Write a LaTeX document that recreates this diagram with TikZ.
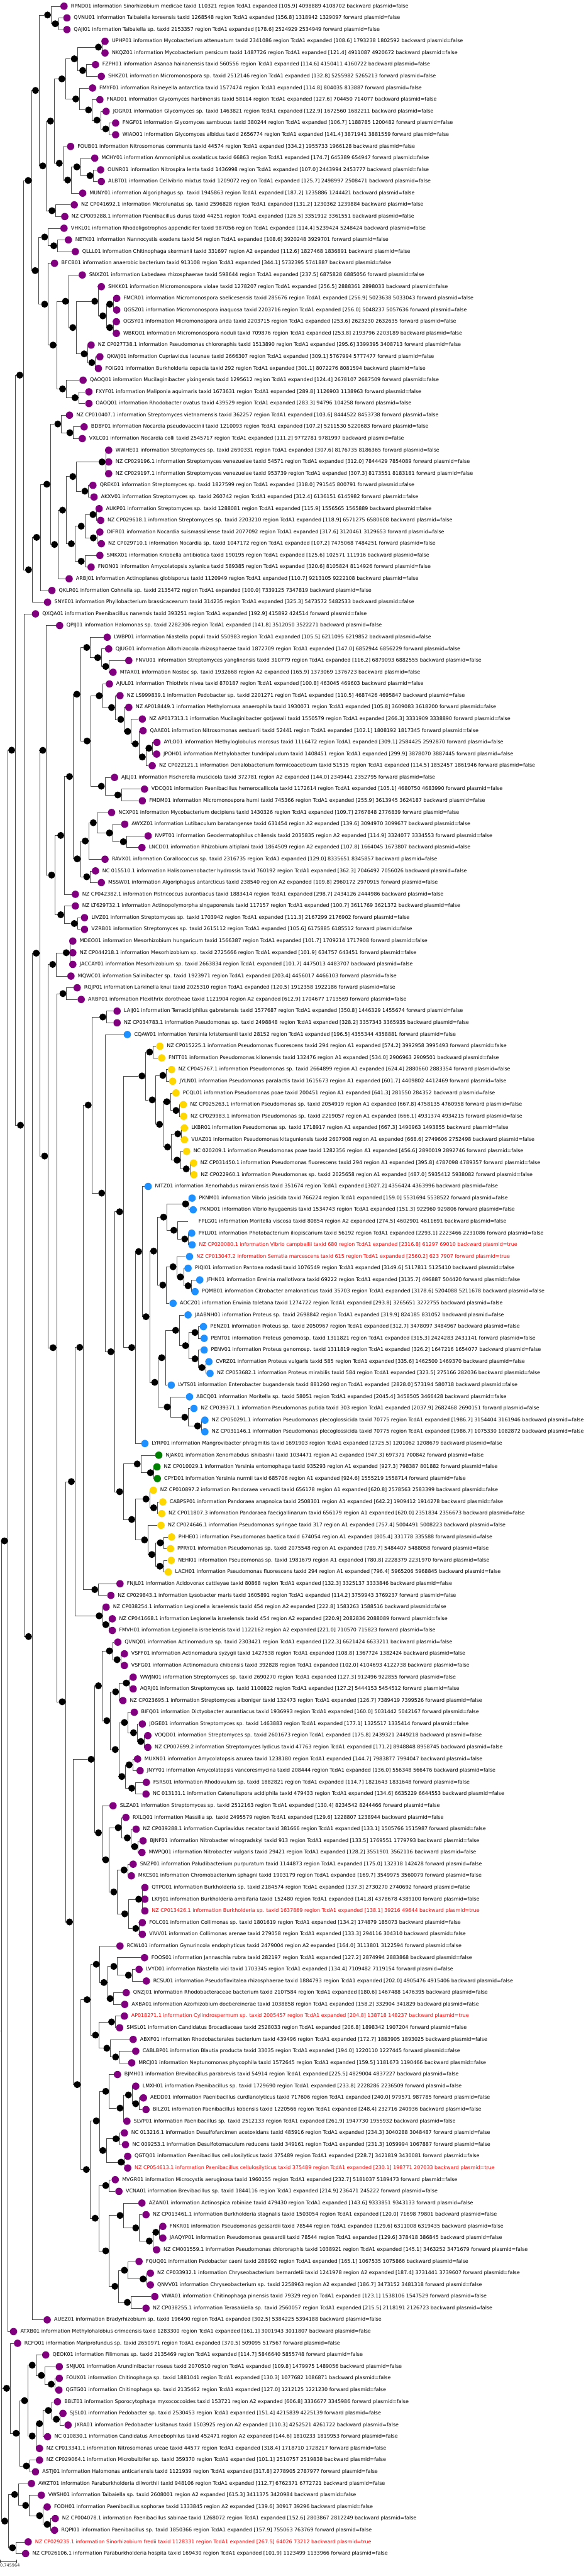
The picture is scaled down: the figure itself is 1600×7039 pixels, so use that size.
\documentclass[tikz,border=0pt]{standalone}
\usepackage{fontspec}
\setmainfont{DejaVu Sans}
\usetikzlibrary{calc,backgrounds}
\definecolor{ink}{HTML}{000000}
\definecolor{lila}{HTML}{800080}
\definecolor{blau}{HTML}{1E90FF}
\definecolor{gold}{HTML}{FFD700}
\definecolor{gruen}{HTML}{008000}
\definecolor{rot}{HTML}{FF0000}
\definecolor{astgrau}{HTML}{4A4A4A}
\newcounter{zeile}
\newcommand\blattschrift{\fontsize{13.7}{16}\selectfont}
% Blatt: Punkt in der nächsten Zeile, Beschriftung rechts daneben
\newcommand\blatt[5][ink]{\node[bpunkt,fill=#4] (#2) at (#3,{17+31.93*\the\value{zeile}}) {};%
  \node[btext,text=#1] (#2-t) at ([xshift=8.5]#2.east) {#5};\stepcounter{zeile}}
% Äste werden gesammelt und am Schluss hinter die Punkte gezeichnet
\makeatletter
\newcommand\kantenliste{}
\newcommand\kante[2]{\g@addto@macro\kantenliste{\draw[ast] (#1.east) |- (#2);}}
\makeatother
% innerer Knoten: Höhe = Mitte zwischen erstem und letztem Kind
\newcommand\knoten[5][kpunkt]{\path let \p1=(#4), \p2=(#5) in
  node[#1] (#2) at (#3pt,{0.5*\y1+0.5*\y2}) {};\kante{#2}{#4}\kante{#2}{#5}}

\begin{document}
\begin{tikzpicture}[x=1pt,y=-1pt]
\useasboundingbox (0,0) rectangle (1600,7039);
\tikzset{bpunkt/.style={circle,inner sep=0,minimum size=20},
  kpunkt/.style={circle,fill=ink,inner sep=0,minimum size=19},
  wurzel/.style={circle,fill=blau,inner sep=0,minimum size=3},
  btext/.style={anchor=west,inner sep=0,font=\blattschrift},
  ast/.style={astgrau,line width=1.1}}

% ---- obere Hälfte ------------------------------------------------------------
\blatt{RPND01}{175}{lila}{RPND01 information Sinorhizobium medicae taxid 110321 region TcdA1 expanded [105.9] 4098889 4108702 backward plasmid=false}
\blatt{QVNU01}{183}{lila}{QVNU01 information Taibaiella koreensis taxid 1268548 region TcdA1 expanded [156.8] 1318942 1329097 forward plasmid=false}
\blatt{QAJI01}{183}{lila}{QAJI01 information Taibaiella sp. taxid 2153357 region TcdA1 expanded [178.6] 2524929 2534949 forward plasmid=false}
\knoten{k151}{151}{QVNU01}{QAJI01}
\knoten{k130}{130}{RPND01}{k151}
\blatt{UPHP01}{287}{lila}{UPHP01 information Mycobacterium attenuatum taxid 2341086 region TcdA1 expanded [108.6] 1793238 1802592 backward plasmid=false}
\blatt{NKQZ01}{287}{lila}{NKQZ01 information Mycobacterium persicum taxid 1487726 region TcdA1 expanded [121.4] 4911087 4920672 backward plasmid=false}
\knoten{k269}{269}{UPHP01}{NKQZ01}
\blatt{FZPH01}{261}{lila}{FZPH01 information Asanoa hainanensis taxid 560556 region TcdA1 expanded [114.6] 4150411 4160722 backward plasmid=false}
\blatt{SHKZ01}{277}{lila}{SHKZ01 information Micromonospora sp. taxid 2512146 region TcdA1 expanded [132.8] 5255982 5265213 forward plasmid=false}
\knoten{k226}{226}{FZPH01}{SHKZ01}
\knoten{k203}{203}{k269}{k226}
\blatt{FMYF01}{253}{lila}{FMYF01 information Raineyella antarctica taxid 1577474 region TcdA1 expanded [114.8] 804035 813887 forward plasmid=false}
\blatt{FNAD01}{273}{lila}{FNAD01 information Glycomyces harbinensis taxid 58114 region TcdA1 expanded [127.6] 704450 714077 backward plasmid=false}
\blatt{JOGR01}{290}{lila}{JOGR01 information Glycomyces sp. taxid 1463821 region TcdA1 expanded [122.9] 1672560 1682211 backward plasmid=false}
\blatt{FNGF01}{316}{lila}{FNGF01 information Glycomyces sambucus taxid 380244 region TcdA1 expanded [106.7] 1188785 1200482 forward plasmid=false}
\blatt{WIAO01}{316}{lila}{WIAO01 information Glycomyces albidus taxid 2656774 region TcdA1 expanded [141.4] 3871941 3881559 forward plasmid=false}
\knoten{k289}{289}{FNGF01}{WIAO01}
\knoten{k265}{265}{JOGR01}{k289}
\knoten{k242}{242}{FNAD01}{k265}
\knoten{k207}{207}{FMYF01}{k242}
\knoten{k169}{169}{k203}{k207}
\blatt{FOUB01}{193}{lila}{FOUB01 information Nitrosomonas communis taxid 44574 region TcdA1 expanded [334.2] 1955733 1966128 backward plasmid=false}
\blatt{MCHY01}{259}{lila}{MCHY01 information Ammoniphilus oxalaticus taxid 66863 region TcdA1 expanded [174.7] 645389 654947 forward plasmid=false}
\blatt{OUNR01}{275}{lila}{OUNR01 information Nitrospira lenta taxid 1436998 region TcdA1 expanded [107.0] 2443994 2453777 backward plasmid=false}
\blatt{ALBT01}{277}{lila}{ALBT01 information Cellvibrio mixtus taxid 1209072 region TcdA1 expanded [125.7] 2498997 2508471 backward plasmid=false}
\knoten{k246}{246}{OUNR01}{ALBT01}
\knoten{k210}{210}{MCHY01}{k246}
\blatt{MUNY01}{226}{lila}{MUNY01 information Algoriphagus sp. taxid 1945863 region TcdA1 expanded [187.2] 1235886 1244421 backward plasmid=false}
\knoten{k185}{185}{k210}{MUNY01}
\knoten{k162}{162}{FOUB01}{k185}
\knoten{k138}{138}{k169}{k162}
\blatt{CP041692}{203}{lila}{NZ CP041692.1 information Microlunatus sp. taxid 2596828 region TcdA1 expanded [131.2] 1230362 1239884 backward plasmid=false}
\blatt{CP009288}{177}{lila}{NZ CP009288.1 information Paenibacillus durus taxid 44251 region TcdA1 expanded [126.5] 3351912 3361551 backward plasmid=false}
\knoten{k142}{142}{CP041692}{CP009288}
\knoten{k117a}{117}{k138}{k142}
\knoten{k97}{97}{k130}{k117a}
\blatt{VHKL01}{175}{lila}{VHKL01 information Rhodoligotrophos appendicifer taxid 987056 region TcdA1 expanded [114.4] 5239424 5248424 backward plasmid=false}
\blatt{NETK01}{187}{lila}{NETK01 information Nannocystis exedens taxid 54 region TcdA1 expanded [108.6] 3920248 3929701 forward plasmid=false}
\blatt{QLLL01}{206}{lila}{QLLL01 information Chitinophaga skermanii taxid 331697 region A2 expanded [112.6] 1827468 1836891 backward plasmid=false}
\knoten{k147}{147}{NETK01}{QLLL01}
\knoten{k122a}{122}{VHKL01}{k147}
\blatt{BFCB01}{149}{lila}{BFCB01 information anaerobic bacterium taxid 913108 region TcdA1 expanded [344.1] 5732395 5741887 backward plasmid=false}
\blatt{SNXZ01}{225}{lila}{SNXZ01 information Labedaea rhizosphaerae taxid 598644 region TcdA1 expanded [237.5] 6875828 6885056 forward plasmid=false}
\blatt{SHKK01}{277}{lila}{SHKK01 information Micromonospora violae taxid 1278207 region TcdA1 expanded [256.5] 2888361 2898033 backward plasmid=false}
\blatt{FMCR01}{319}{lila}{FMCR01 information Micromonospora saelicesensis taxid 285676 region TcdA1 expanded [256.9] 5023638 5033043 forward plasmid=false}
\blatt{QGSZ01}{319}{lila}{QGSZ01 information Micromonospora inaquosa taxid 2203716 region TcdA1 expanded [256.0] 5048237 5057636 forward plasmid=false}
\knoten{k300a}{300}{FMCR01}{QGSZ01}
\blatt{QGSY01}{318}{lila}{QGSY01 information Micromonospora arida taxid 2203715 region TcdA1 expanded [253.6] 2623230 2632635 forward plasmid=false}
\blatt{WBKQ01}{318}{lila}{WBKQ01 information Micromonospora noduli taxid 709876 region TcdA1 expanded [253.8] 2193796 2203189 backward plasmid=false}
\knoten{k300b}{300}{QGSY01}{WBKQ01}
\knoten{k281}{281}{k300a}{k300b}
\knoten{k259}{259}{SHKK01}{k281}
\blatt{CP027738}{249}{lila}{NZ CP027738.1 information Pseudomonas chlororaphis taxid 1513890 region TcdA1 expanded [295.6] 3399395 3408713 forward plasmid=false}
\blatt{QKWJ01}{273}{lila}{QKWJ01 information Cupriavidus lacunae taxid 2666307 region TcdA1 expanded [309.1] 5767994 5777477 forward plasmid=false}
\blatt{FOIG01}{269}{lila}{FOIG01 information Burkholderia cepacia taxid 292 region TcdA1 expanded [301.1] 8072276 8081594 backward plasmid=false}
\knoten{k251}{251}{QKWJ01}{FOIG01}
\knoten{k230}{230}{CP027738}{k251}
\knoten{k199}{199}{k259}{k230}
\knoten{k179}{179}{SNXZ01}{k199}
\blatt{QAOQ01}{227}{lila}{QAOQ01 information Mucilaginibacter yixingensis taxid 1295612 region TcdA1 expanded [124.4] 2678107 2687509 forward plasmid=false}
\blatt{FXYF01}{243}{lila}{FXYF01 information Maliponia aquimaris taxid 1673631 region TcdA1 expanded [289.8] 1126903 1138963 forward plasmid=false}
\blatt{OAOQ01}{243}{lila}{OAOQ01 information Rhodobacter ovatus taxid 439529 region TcdA1 expanded [283.3] 94796 104258 forward plasmid=false}
\knoten{k205}{205}{FXYF01}{OAOQ01}
\knoten{k171}{171}{QAOQ01}{k205}
\knoten{k145}{145}{k179}{k171}
\knoten{k122b}{122}{BFCB01}{k145}
\knoten{k96}{96}{k122a}{k122b}
\knoten{k77}{77}{k97}{k96}
\blatt{CP010407}{190}{lila}{NZ CP010407.1 information Streptomyces vietnamensis taxid 362257 region TcdA1 expanded [103.6] 8444522 8453738 forward plasmid=false}
\blatt{BDBY01}{230}{lila}{BDBY01 information Nocardia pseudovaccinii taxid 1210093 region TcdA1 expanded [107.2] 5211530 5220683 forward plasmid=false}
\blatt{VXLC01}{225}{lila}{VXLC01 information Nocardia colli taxid 2545717 region TcdA1 expanded [111.2] 9772781 9781997 backward plasmid=false}
\knoten{k191}{191}{BDBY01}{VXLC01}
\knoten{k158}{158}{CP010407}{k191}
\blatt{WWHE01}{297}{lila}{WWHE01 information Streptomyces sp. taxid 2690331 region TcdA1 expanded [307.6] 8176735 8186365 forward plasmid=false}
\blatt{CP029196}{297}{lila}{NZ CP029196.1 information Streptomyces venezuelae taxid 54571 region TcdA1 expanded [312.0] 7844429 7854089 forward plasmid=false}
\blatt{CP029197}{297}{lila}{NZ CP029197.1 information Streptomyces venezuelae taxid 953739 region TcdA1 expanded [307.3] 8173551 8183181 forward plasmid=false}
\knoten{k279}{279}{WWHE01}{CP029197}\kante{k279}{CP029196}
\blatt{QREK01}{254}{lila}{QREK01 information Streptomyces sp. taxid 1827599 region TcdA1 expanded [318.0] 791545 800791 forward plasmid=false}
\blatt{AKXV01}{257}{lila}{AKXV01 information Streptomyces sp. taxid 260742 region TcdA1 expanded [312.4] 6136151 6145982 forward plasmid=false}
\knoten{k232}{232}{QREK01}{AKXV01}
\knoten{k199b}{199}{k279}{k232}
\blatt{AUKP01}{271}{lila}{AUKP01 information Streptomyces sp. taxid 1288081 region TcdA1 expanded [115.9] 1556565 1565889 backward plasmid=false}
\blatt{CP029618}{275}{lila}{NZ CP029618.1 information Streptomyces sp. taxid 2203210 region TcdA1 expanded [118.9] 6571275 6580608 backward plasmid=false}
\knoten{k254}{254}{AUKP01}{CP029618}
\blatt{OIFR01}{273}{lila}{OIFR01 information Nocardia suismassiliense taxid 2077092 region TcdA1 expanded [317.6] 3120461 3129653 forward plasmid=false}
\blatt{CP029710}{277}{lila}{NZ CP029710.1 information Nocardia sp. taxid 1047172 region TcdA1 expanded [107.2] 7475068 7484251 forward plasmid=false}
\knoten{k255}{255}{OIFR01}{CP029710}
\knoten{k222a}{222}{k254}{k255}
\blatt{SMKX01}{273}{lila}{SMKX01 information Kribbella antibiotica taxid 190195 region TcdA1 expanded [125.6] 102571 111916 backward plasmid=false}
\blatt{FNON01}{249}{lila}{FNON01 information Amycolatopsis xylanica taxid 589385 region TcdA1 expanded [320.6] 8105824 8114926 forward plasmid=false}
\knoten{k222b}{222}{SMKX01}{FNON01}
\knoten{k195}{195}{k222a}{k222b}
\knoten{k171b}{171}{k199b}{k195}
\blatt{ARBJ01}{189}{lila}{ARBJ01 information Actinoplanes globisporus taxid 1120949 region TcdA1 expanded [110.7] 9213105 9222108 backward plasmid=false}
\knoten{k149}{149}{k171b}{ARBJ01}
\knoten{k128}{128}{k158}{k149}
\blatt{QKLR01}{142}{lila}{QKLR01 information Cohnella sp. taxid 2135472 region TcdA1 expanded [100.0] 7339125 7347819 backward plasmid=false}
\knoten{k100}{100}{k128}{QKLR01}
\blatt{SNYE01}{130}{lila}{SNYE01 information Phyllobacterium brassicacearum taxid 314235 region TcdA1 expanded [325.3] 5473572 5482533 backward plasmid=false}
\knoten{k78}{78}{k100}{SNYE01}
\knoten{k54}{54}{k77}{k78}

% ---- mittlerer Teil ----------------------------------------------------------
\blatt{QXQA01}{97}{lila}{QXQA01 information Paenibacillus nanensis taxid 393251 region TcdA1 expanded [192.9] 415892 424514 forward plasmid=false}
\blatt{QPIJ01}{163}{lila}{QPIJ01 information Halomonas sp. taxid 2282306 region TcdA1 expanded [141.8] 3512050 3522271 backward plasmid=false}
\blatt{LWBP01}{293}{lila}{LWBP01 information Niastella populi taxid 550983 region TcdA1 expanded [105.5] 6211095 6219852 backward plasmid=false}
\blatt{QJUG01}{297}{lila}{QJUG01 information Allorhizocola rhizosphaerae taxid 1872709 region TcdA1 expanded [147.0] 6852944 6856229 forward plasmid=false}
\blatt{FNVU01}{352}{lila}{FNVU01 information Streptomyces yanglinensis taxid 310779 region TcdA1 expanded [116.2] 6879093 6882555 backward plasmid=false}
\blatt{MTAX01}{309}{lila}{MTAX01 information Nostoc sp. taxid 1932668 region A2 expanded [165.9] 1373069 1376723 backward plasmid=false}
\knoten{k289b}{289}{FNVU01}{MTAX01}
\knoten{k267}{267}{QJUG01}{k289b}
\knoten{k237a}{237}{LWBP01}{k267}
\blatt{AJUL01}{299}{lila}{AJUL01 information Thiothrix nivea taxid 870187 region TcdA1 expanded [100.8] 463045 469603 backward plasmid=false}
\blatt{LS999839}{328}{lila}{NZ LS999839.1 information Pedobacter sp. taxid 2201271 region TcdA1 expanded [110.5] 4687426 4695847 backward plasmid=false}
\blatt{AP018449}{352}{lila}{NZ AP018449.1 information Methylomusa anaerophila taxid 1930071 region TcdA1 expanded [105.8] 3609083 3618200 forward plasmid=false}
\blatt{AP017313}{389}{lila}{NZ AP017313.1 information Mucilaginibacter gotjawali taxid 1550579 region TcdA1 expanded [266.3] 3331909 3338890 forward plasmid=false}
\blatt{QAAE01}{391}{lila}{QAAE01 information Nitrosomonas aestuarii taxid 52441 region TcdA1 expanded [102.1] 1808192 1817345 forward plasmid=false}
\blatt{AYLO01}{429}{lila}{AYLO01 information Methyloglobulus morosus taxid 1116472 region TcdA1 expanded [309.1] 2584425 2592870 forward plasmid=false}
\blatt{JPOH01}{428}{lila}{JPOH01 information Methylobacter tundripaludum taxid 1408451 region TcdA1 expanded [299.9] 3878070 3887445 forward plasmid=false}
\knoten{k407}{407}{AYLO01}{JPOH01}
\blatt{CP022121}{416}{lila}{NZ CP022121.1 information Dehalobacterium formicoaceticum taxid 51515 region TcdA1 expanded [114.5] 1852457 1861946 forward plasmid=false}
\knoten{k389}{389}{k407}{CP022121}
\knoten{k370}{370}{QAAE01}{k389}
\knoten{k349}{349}{AP017313}{k370}
\knoten{k330}{330}{AP018449}{k349}
\knoten{k305}{305}{LS999839}{k330}
\knoten{k271}{271}{AJUL01}{k305}
\blatt{AJLJ01}{313}{lila}{AJLJ01 information Fischerella muscicola taxid 372781 region A2 expanded [144.0] 2349441 2352795 forward plasmid=false}
\blatt{VDCQ01}{395}{lila}{VDCQ01 information Paenibacillus hemerocallicola taxid 1172614 region TcdA1 expanded [105.1] 4680750 4683990 forward plasmid=false}
\blatt{FMDM01}{389}{lila}{FMDM01 information Micromonospora humi taxid 745366 region TcdA1 expanded [255.9] 3613945 3624187 backward plasmid=false}
\knoten{k322}{322}{VDCQ01}{FMDM01}
\knoten{k277}{277}{AJLJ01}{k322}
\knoten{k238}{238}{k271}{k277}
\knoten{k210b}{210}{k237a}{k238}
\blatt{NCXP01}{305}{lila}{NCXP01 information Mycobacterium decipiens taxid 1430326 region TcdA1 expanded [109.7] 2767848 2776839 forward plasmid=false}
\blatt{AWXZ01}{341}{lila}{AWXZ01 information Lutibaculum baratangense taxid 631454 region A2 expanded [139.6] 3094970 3099677 backward plasmid=false}
\blatt{NVPT01}{405}{lila}{NVPT01 information Geodermatophilus chilensis taxid 2035835 region A2 expanded [114.9] 3324077 3334553 forward plasmid=false}
\blatt{LNCD01}{388}{lila}{LNCD01 information Rhizobium altiplani taxid 1864509 region A2 expanded [107.8] 1664045 1673807 backward plasmid=false}
\knoten{k337}{337}{NVPT01}{LNCD01}
\knoten{k299}{299}{AWXZ01}{k337}
\knoten{k255b}{255}{NCXP01}{k299}
\blatt{RAVX01}{287}{lila}{RAVX01 information Corallococcus sp. taxid 2316735 region TcdA1 expanded [129.0] 8335651 8345857 backward plasmid=false}
\knoten{k233}{233}{k255b}{RAVX01}
\blatt{NC015510}{261}{lila}{NC 015510.1 information Haliscomenobacter hydrossis taxid 760192 region TcdA1 expanded [362.3] 7046492 7056026 backward plasmid=false}
\blatt{MSSW01}{277}{lila}{MSSW01 information Algoriphagus antarcticus taxid 238540 region A2 expanded [109.8] 2960172 2970915 forward plasmid=false}
\knoten{k237b}{237}{NC015510}{MSSW01}
\knoten{k211}{211}{k233}{k237b}
\knoten{k190}{190}{k210b}{k211}
\blatt{CP042382}{206}{lila}{NZ CP042382.1 information Pistricoccus aurantiacus taxid 1883414 region TcdA1 expanded [298.7] 2434126 2444986 backward plasmid=false}
\knoten{k166}{166}{k190}{CP042382}
\blatt{LT629732}{206}{lila}{NZ LT629732.1 information Actinopolymorpha singaporensis taxid 117157 region TcdA1 expanded [100.7] 3611769 3621372 backward plasmid=false}
\blatt{LIVZ01}{231}{lila}{LIVZ01 information Streptomyces sp. taxid 1703942 region TcdA1 expanded [111.3] 2167299 2176902 forward plasmid=false}
\blatt{VZRB01}{231}{lila}{VZRB01 information Streptomyces sp. taxid 2615112 region TcdA1 expanded [105.6] 6175885 6185512 forward plasmid=false}
\knoten{k203b}{203}{LIVZ01}{VZRB01}
\knoten{k166b}{166}{LT629732}{k203b}
\knoten{k141}{141}{k166}{k166b}
\knoten{k117}{117}{QPIJ01}{k141}
\blatt{MDEO01}{199}{lila}{MDEO01 information Mesorhizobium hungaricum taxid 1566387 region TcdA1 expanded [101.7] 1709214 1717908 forward plasmid=false}
\blatt{CP044218}{199}{lila}{NZ CP044218.1 information Mesorhizobium sp. taxid 2725666 region TcdA1 expanded [101.9] 634757 643451 forward plasmid=false}
\blatt{JACCAY01}{199}{lila}{JACCAY01 information Mesorhizobium sp. taxid 2663834 region TcdA1 expanded [101.7] 4475013 4483707 backward plasmid=false}
\knoten{k181}{181}{MDEO01}{JACCAY01}\kante{k181}{CP044218}
\blatt{MQWC01}{194}{lila}{MQWC01 information Salinibacter sp. taxid 1923971 region TcdA1 expanded [203.4] 4456017 4466103 forward plasmid=false}
\knoten{k144}{144}{k181}{MQWC01}
\blatt{RQJP01}{211}{lila}{RQJP01 information Larkinella knui taxid 2025310 region TcdA1 expanded [120.5] 1912358 1922186 forward plasmid=false}
\blatt{ARBP01}{222}{lila}{ARBP01 information Flexithrix dorotheae taxid 1121904 region A2 expanded [612.9] 1704677 1713569 forward plasmid=false}
\knoten{k172}{172}{RQJP01}{ARBP01}
\blatt{LAIJ01}{320}{lila}{LAIJ01 information Terracidiphilus gabretensis taxid 1577687 region TcdA1 expanded [350.8] 1446329 1455674 forward plasmid=false}
\blatt{CP034783}{320}{lila}{NZ CP034783.1 information Pseudomonas sp. taxid 2498848 region TcdA1 expanded [328.2] 3357343 3365935 backward plasmid=false}
\knoten{k281c}{281}{LAIJ01}{CP034783}
\blatt{CQAW01}{348}{blau}{CQAW01 information Yersinia kristensenii taxid 28152 region TcdA1 expanded [196.5] 4355344 4358881 forward plasmid=false}

% ---- A1-Gruppe (gelb) und blaue Gruppe ---------------------------------------
\blatt{CP015225}{437}{gold}{NZ CP015225.1 information Pseudomonas fluorescens taxid 294 region A1 expanded [574.2] 3992958 3995493 forward plasmid=false}
\blatt{FNTT01}{442}{gold}{FNTT01 information Pseudomonas kilonensis taxid 132476 region A1 expanded [534.0] 2906963 2909501 backward plasmid=false}
\knoten{k409}{409}{CP015225}{FNTT01}
\blatt{CP045767}{469}{gold}{NZ CP045767.1 information Pseudomonas sp. taxid 2664899 region A1 expanded [624.4] 2880660 2883354 forward plasmid=false}
\blatt{JYLN01}{472}{gold}{JYLN01 information Pseudomonas paralactis taxid 1615673 region A1 expanded [601.7] 4409802 4412469 forward plasmid=false}
\knoten{k445}{445}{CP045767}{JYLN01}
\blatt{PCQL01}{481}{gold}{PCQL01 information Pseudomonas poae taxid 200451 region A1 expanded [641.3] 281550 284352 backward plasmid=false}
\blatt{CP025263}{501}{gold}{NZ CP025263.1 information Pseudomonas sp. taxid 2054919 region A1 expanded [667.8] 4758135 4760958 forward plasmid=false}
\blatt{CP029983}{502}{gold}{NZ CP029983.1 information Pseudomonas sp. taxid 2219057 region A1 expanded [666.1] 4931374 4934215 forward plasmid=false}
\knoten{k481}{481}{CP025263}{CP029983}
\knoten{k456}{456}{PCQL01}{k481}
\blatt{LKBR01}{504}{gold}{LKBR01 information Pseudomonas sp. taxid 1718917 region A1 expanded [667.3] 1490963 1493855 backward plasmid=false}
\blatt{VUAZ01}{504}{gold}{VUAZ01 information Pseudomonas kitaguniensis taxid 2607908 region A1 expanded [668.6] 2749606 2752498 backward plasmid=false}
\knoten{k486}{486}{LKBR01}{VUAZ01}
\blatt{NC020209}{510}{gold}{NC 020209.1 information Pseudomonas poae taxid 1282356 region A1 expanded [456.6] 2890019 2892746 forward plasmid=false}
\blatt{CP031450}{529}{gold}{NZ CP031450.1 information Pseudomonas fluorescens taxid 294 region A1 expanded [395.8] 4787098 4789357 forward plasmid=false}
\blatt{CP022960}{530}{gold}{NZ CP022960.1 information Pseudomonas sp. taxid 2025658 region A1 expanded [487.0] 5935412 5938082 forward plasmid=false}
\knoten{k509}{509}{CP031450}{CP022960}
\knoten{k484}{484}{NC020209}{k509}
\knoten{k458}{458}{k486}{k484}
\knoten{k436}{436}{k456}{k458}
\knoten{k416}{416}{k445}{k436}
\knoten{k388}{388}{k409}{k416}
\blatt{NITZ01}{405}{blau}{NITZ01 information Xenorhabdus miraniensis taxid 351674 region TcdA1 expanded [3027.2] 4356424 4363996 backward plasmid=false}
\blatt{PKNM01}{525}{blau}{PKNM01 information Vibrio jasicida taxid 766224 region TcdA1 expanded [159.0] 5531694 5538522 forward plasmid=false}
\blatt{PKND01}{528}{blau}{PKND01 information Vibrio hyugaensis taxid 1534743 region TcdA1 expanded [151.3] 922960 929806 forward plasmid=false}
\knoten{k507}{507}{PKNM01}{PKND01}
\blatt{FPLG01}{524}{none}{FPLG01 information Moritella viscosa taxid 80854 region A2 expanded [274.5] 4602901 4611691 backward plasmid=false}
\blatt{PYLU01}{524}{blau}{PYLU01 information Photobacterium iliopiscarium taxid 56192 region TcdA1 expanded [2293.1] 2223466 2231086 forward plasmid=false}
\blatt[rot]{CP020080}{525}{blau}{NZ CP020080.1 information Vibrio campbellii taxid 680 region TcdA1 expanded [2316.8] 61297 69010 backward plasmid=true}
\knoten{k505}{505}{PYLU01}{CP020080}
\knoten{k475}{475}{FPLG01}{k505}
\knoten{k447a}{447}{k507}{k475}
\blatt[rot]{CP013047}{518}{blau}{NZ CP013047.2 information Serratia marcescens taxid 615 region TcdA1 expanded [2560.2] 623 7907 forward plasmid=true}
\blatt{PIQI01}{514}{blau}{PIQI01 information Pantoea rodasii taxid 1076549 region TcdA1 expanded [3149.6] 5117811 5125410 backward plasmid=false}
\blatt{JFHN01}{546}{blau}{JFHN01 information Erwinia mallotivora taxid 69222 region TcdA1 expanded [3135.7] 496887 504420 forward plasmid=false}
\blatt{PQMB01}{533}{blau}{PQMB01 information Citrobacter amalonaticus taxid 35703 region TcdA1 expanded [3178.6] 5204088 5211678 backward plasmid=false}
\knoten{k514}{514}{JFHN01}{PQMB01}
\knoten{k493}{493}{PIQI01}{k514}
\knoten{k473}{473}{CP013047}{k493}
\blatt{AOCZ01}{473}{blau}{AOCZ01 information Erwinia toletana taxid 1274722 region TcdA1 expanded [293.8] 3265651 3272755 backward plasmid=false}
\knoten{k447b}{445}{k473}{AOCZ01}
\knoten{k420a}{420}{k447a}{k447b}
\blatt{JAABNH01}{514}{blau}{JAABNH01 information Proteus sp. taxid 2698842 region TcdA1 expanded [319.9] 824185 831052 backward plasmid=false}
\blatt{PENZ01}{556}{blau}{PENZ01 information Proteus sp. taxid 2050967 region TcdA1 expanded [312.7] 3478097 3484967 backward plasmid=false}
\blatt{PENT01}{558}{blau}{PENT01 information Proteus genomosp. taxid 1311821 region TcdA1 expanded [315.3] 2424283 2431141 forward plasmid=false}
\knoten{k533a}{533}{PENZ01}{PENT01}
\blatt{PENV01}{558}{blau}{PENV01 information Proteus genomosp. taxid 1311819 region TcdA1 expanded [326.2] 1647216 1654077 backward plasmid=false}
\blatt{CVRZ01}{571}{blau}{CVRZ01 information Proteus vulgaris taxid 585 region TcdA1 expanded [335.6] 1462500 1469370 backward plasmid=false}
\blatt{CP053682}{574}{blau}{NZ CP053682.1 information Proteus mirabilis taxid 584 region TcdA1 expanded [323.5] 275166 282036 backward plasmid=false}
\knoten{k552}{552}{CVRZ01}{CP053682}
\knoten{k533b}{533}{PENV01}{k552}
\knoten{k507b}{507}{k533a}{k533b}
\knoten{k480}{480}{JAABNH01}{k507b}
\blatt{LVTS01}{468}{blau}{LVTS01 information Enterobacter bugandensis taxid 881260 region TcdA1 expanded [2828.0] 573194 580718 backward plasmid=false}
\knoten{k442}{442}{k480}{LVTS01}
\blatt{ABCQ01}{518}{blau}{ABCQ01 information Moritella sp. taxid 58051 region TcdA1 expanded [2045.4] 3458505 3466428 backward plasmid=false}
\blatt{CP039371}{530}{blau}{NZ CP039371.1 information Pseudomonas putida taxid 303 region TcdA1 expanded [2037.9] 2682468 2690151 forward plasmid=false}
\blatt{CP050291}{560}{blau}{NZ CP050291.1 information Pseudomonas plecoglossicida taxid 70775 region TcdA1 expanded [1986.7] 3154404 3161946 backward plasmid=false}
\blatt{CP031146}{560}{blau}{NZ CP031146.1 information Pseudomonas plecoglossicida taxid 70775 region TcdA1 expanded [1986.7] 1075330 1082872 backward plasmid=false}
\knoten{k540}{540}{CP050291}{CP031146}
\knoten{k505b}{505}{CP039371}{k540}
\knoten{k457}{457}{ABCQ01}{k505b}
\knoten{k423}{423}{k442}{k457}
\knoten{k399a}{399}{k420a}{k423}
\knoten{k379}{379}{NITZ01}{k399a}
\blatt{LYRP01}{396}{blau}{LYRP01 information Mangrovibacter phragmitis taxid 1691903 region TcdA1 expanded [2725.5] 1201062 1208679 backward plasmid=false}
\knoten{k360a}{360}{k379}{LYRP01}
\knoten{k327a}{327}{k388}{k360a}
\blatt{NJAK01}{434}{gruen}{NJAK01 information Xenorhabdus ishibashii taxid 1034471 region A1 expanded [947.3] 697371 700842 forward plasmid=false}
\blatt{CP010029}{429}{gruen}{NZ CP010029.1 information Yersinia entomophaga taxid 935293 region A1 expanded [927.3] 798387 801882 forward plasmid=false}
\blatt{CPYD01}{430}{gruen}{CPYD01 information Yersinia nurmii taxid 685706 region A1 expanded [924.6] 1555219 1558714 forward plasmid=false}
\knoten{k411}{411}{CP010029}{CPYD01}
\knoten{k375}{375}{NJAK01}{k411}
\blatt{CP010897}{419}{gold}{NZ CP010897.2 information Pandoraea vervacti taxid 656178 region A1 expanded [620.8] 2578563 2583399 backward plasmid=false}
\blatt{CABPSP01}{445}{gold}{CABPSP01 information Pandoraea anapnoica taxid 2508301 region A1 expanded [642.2] 1909412 1914278 backward plasmid=false}
\blatt{CP011807}{442}{gold}{NZ CP011807.3 information Pandoraea faecigallinarum taxid 656179 region A1 expanded [620.0] 2351834 2356673 backward plasmid=false}
\knoten{k420b}{420}{CABPSP01}{CP011807}
\knoten{k399b}{399}{CP010897}{k420b}
\blatt{CP024646}{440}{gold}{NZ CP024646.1 information Pseudomonas syringae taxid 317 region A1 expanded [757.4] 5004491 5008223 backward plasmid=false}
\blatt{PHHE01}{469}{gold}{PHHE01 information Pseudomonas baetica taxid 674054 region A1 expanded [805.4] 331778 335588 forward plasmid=false}
\blatt{PPRY01}{466}{gold}{PPRY01 information Pseudomonas sp. taxid 2075548 region A1 expanded [789.7] 5484407 5488058 forward plasmid=false}
\knoten{k438}{438}{PHHE01}{PPRY01}
\blatt{NEHI01}{468}{gold}{NEHI01 information Pseudomonas sp. taxid 1981679 region A1 expanded [780.8] 2228379 2231970 forward plasmid=false}
\blatt{LACH01}{460}{gold}{LACH01 information Pseudomonas fluorescens taxid 294 region A1 expanded [796.4] 5965206 5968845 backward plasmid=false}
\knoten{k437}{437}{NEHI01}{LACH01}
\knoten{k415}{415}{k438}{k437}
\knoten{k395}{395}{CP024646}{k415}
\knoten{k360b}{360}{k399b}{k395}
\knoten{k327b}{327}{k375}{k360b}
\knoten{k303}{303}{k327a}{k327b}
\knoten{k278}{278}{CQAW01}{k303}
\knoten{k241}{241}{k281c}{k278}
\blatt{FNJL01}{328}{lila}{FNJL01 information Acidovorax cattleyae taxid 80868 region TcdA1 expanded [132.3] 3325137 3333846 backward plasmid=false}
\blatt{CP029843}{303}{lila}{NZ CP029843.1 information Lysobacter maris taxid 1605891 region TcdA1 expanded [114.2] 3759943 3769237 forward plasmid=false}
\knoten{k259b}{259}{FNJL01}{CP029843}
\knoten{k218}{218}{k241}{k259b}
\blatt{CP038254}{290}{lila}{NZ CP038254.1 information Legionella israelensis taxid 454 region A2 expanded [222.8] 1583263 1588516 backward plasmid=false}
\blatt{CP041668}{307}{lila}{NZ CP041668.1 information Legionella israelensis taxid 454 region A2 expanded [220.9] 2082836 2088089 forward plasmid=false}
\blatt{FMVH01}{307}{lila}{FMVH01 information Legionella israelensis taxid 1122162 region A2 expanded [221.0] 710570 715823 forward plasmid=false}
\knoten{k289g}{289}{CP041668}{FMVH01}
\knoten{k271b}{271}{CP038254}{k289g}
\knoten{k195c}{195}{k218}{k271b}

% ---- untere Hälfte -----------------------------------------------------------
\blatt{QVNQ01}{322}{lila}{QVNQ01 information Actinomadura sp. taxid 2303421 region TcdA1 expanded [122.3] 6621424 6633211 backward plasmid=false}
\blatt{VSFF01}{340}{lila}{VSFF01 information Actinomadura syzygii taxid 1427538 region TcdA1 expanded [108.8] 1367724 1382424 backward plasmid=false}
\blatt{VSFG01}{340}{lila}{VSFG01 information Actinomadura chibensis taxid 392828 region TcdA1 expanded [102.0] 4104693 4122738 backward plasmid=false}
\knoten{k320}{320}{VSFF01}{VSFG01}
\knoten{k299b}{299}{QVNQ01}{k320}
\blatt{WWJN01}{364}{lila}{WWJN01 information Streptomyces sp. taxid 2690270 region TcdA1 expanded [127.3] 912496 922855 forward plasmid=false}
\blatt{AQRJ01}{364}{lila}{AQRJ01 information Streptomyces sp. taxid 1100822 region TcdA1 expanded [127.2] 5444153 5454512 forward plasmid=false}
\knoten{k345}{345}{WWJN01}{AQRJ01}
\blatt{CP023695}{336}{lila}{NZ CP023695.1 information Streptomyces alboniger taxid 132473 region TcdA1 expanded [126.7] 7389419 7399526 forward plasmid=false}
\knoten{k316}{316}{k345}{CP023695}
\blatt{BIFQ01}{367}{lila}{BIFQ01 information Dictyobacter aurantiacus taxid 1936993 region TcdA1 expanded [160.0] 5031442 5042167 forward plasmid=false}
\blatt{JOGE01}{389}{lila}{JOGE01 information Streptomyces sp. taxid 1463883 region TcdA1 expanded [177.1] 1325517 1335414 forward plasmid=false}
\blatt{VOQD01}{404}{lila}{VOQD01 information Streptomyces sp. taxid 2601673 region TcdA1 expanded [175.8] 2439321 2449218 backward plasmid=false}
\blatt{CP007699}{404}{lila}{NZ CP007699.2 information Streptomyces lydicus taxid 47763 region TcdA1 expanded [171.2] 8948848 8958745 backward plasmid=false}
\knoten{k385}{385}{VOQD01}{CP007699}
\knoten{k365}{365}{JOGE01}{k385}
\knoten{k340}{340}{BIFQ01}{k365}
\blatt{MUXN01}{376}{lila}{MUXN01 information Amycolatopsis azurea taxid 1238180 region TcdA1 expanded [144.7] 7983877 7994047 backward plasmid=false}
\blatt{JNYY01}{383}{lila}{JNYY01 information Amycolatopsis vancoresmycina taxid 208444 region TcdA1 expanded [136.0] 556348 566476 backward plasmid=false}
\knoten{k353}{353}{MUXN01}{JNYY01}
\blatt{FSRS01}{400}{lila}{FSRS01 information Rhodovulum sp. taxid 1882821 region TcdA1 expanded [114.7] 1821643 1831648 forward plasmid=false}
\blatt{NC013131}{399}{lila}{NC 013131.1 information Catenulispora acidiphila taxid 479433 region TcdA1 expanded [134.6] 6635229 6644553 backward plasmid=false}
\knoten{k360c}{360}{FSRS01}{NC013131}
\knoten{k333}{333}{k353}{k360c}
\knoten{k315}{315}{k340}{k333}
\knoten{k292}{292}{k316}{k315}
\knoten{k269a}{269}{k299b}{k292}
\blatt{SLZA01}{309}{lila}{SLZA01 information Streptomyces sp. taxid 2512163 region TcdA1 expanded [130.4] 8234542 8244466 forward plasmid=false}
\blatt{RXLQ01}{344}{lila}{RXLQ01 information Massilia sp. taxid 2495579 region TcdA1 expanded [129.6] 1228807 1238944 backward plasmid=false}
\blatt{CP039288}{372}{lila}{NZ CP039288.1 information Cupriavidus necator taxid 381666 region TcdA1 expanded [133.1] 1505766 1515987 forward plasmid=false}
\blatt{BJNF01}{391}{lila}{BJNF01 information Nitrobacter winogradskyi taxid 913 region TcdA1 expanded [133.5] 1769551 1779793 backward plasmid=false}
\blatt{MWPQ01}{388}{lila}{MWPQ01 information Nitrobacter vulgaris taxid 29421 region TcdA1 expanded [128.2] 3551901 3562116 backward plasmid=false}
\knoten{k368}{368}{BJNF01}{MWPQ01}
\knoten{k348}{348}{CP039288}{k368}
\knoten{k323}{323}{RXLQ01}{k348}
\blatt{SNZP01}{364}{lila}{SNZP01 information Paludibacterium purpuratum taxid 1144873 region TcdA1 expanded [175.0] 132318 142428 forward plasmid=false}
\blatt{MKCS01}{359}{lila}{MKCS01 information Chromobacterium sphagni taxid 1903179 region TcdA1 expanded [169.7] 3549975 3560079 forward plasmid=false}
\knoten{k339}{339}{SNZP01}{MKCS01}
\blatt{QTPO01}{396}{lila}{QTPO01 information Burkholderia sp. taxid 2184574 region TcdA1 expanded [137.3] 2730270 2740692 forward plasmid=false}
\blatt{LKPJ01}{396}{lila}{LKPJ01 information Burkholderia ambifaria taxid 152480 region TcdA1 expanded [141.8] 4378678 4389100 forward plasmid=false}
\blatt[rot]{CP013426}{396}{lila}{NZ CP013426.1 information Burkholderia sp. taxid 1637869 region TcdA1 expanded [138.1] 39216 49644 backward plasmid=true}
\knoten{k379b}{379}{QTPO01}{CP013426}\kante{k379b}{LKPJ01}
\blatt{FOLC01}{389}{lila}{FOLC01 information Collimonas sp. taxid 1801619 region TcdA1 expanded [134.2] 174879 185073 backward plasmid=false}
\blatt{VIVV01}{389}{lila}{VIVV01 information Collimonas arenae taxid 279058 region TcdA1 expanded [133.3] 294116 304310 backward plasmid=false}
\knoten{k371}{371}{FOLC01}{VIVV01}
\knoten{k341}{341}{k379b}{k371}
\knoten{k311}{311}{k339}{k341}
\knoten{k289c}{289}{k323}{k311}
\knoten{k269b}{269}{SLZA01}{k289c}
\knoten{k249}{249}{k269a}{k269b}
\blatt{RCWL01}{328}{lila}{RCWL01 information Gynurincola endophyticus taxid 2479004 region A2 expanded [164.0] 3113801 3122594 forward plasmid=false}
\blatt{FOOS01}{395}{lila}{FOOS01 information Jannaschia rubra taxid 282197 region TcdA1 expanded [127.2] 2874994 2883868 backward plasmid=false}
\blatt{LVYD01}{380}{lila}{LVYD01 information Niastella vici taxid 1703345 region TcdA1 expanded [134.4] 7109482 7119154 forward plasmid=false}
\blatt{RCSU01}{400}{lila}{RCSU01 information Pseudoflavitalea rhizosphaerae taxid 1884793 region TcdA1 expanded [202.0] 4905476 4915406 backward plasmid=false}
\knoten{k351b}{351}{LVYD01}{RCSU01}
\knoten{k311b}{311}{FOOS01}{k351b}
\blatt{QNZJ01}{345}{lila}{QNZJ01 information Rhodobacteraceae bacterium taxid 2107584 region TcdA1 expanded [180.6] 1467488 1476395 backward plasmid=false}
\blatt{AXBA01}{341}{lila}{AXBA01 information Azorhizobium doebereinerae taxid 1038858 region TcdA1 expanded [158.2] 332904 341829 backward plasmid=false}
\knoten{k301}{301}{QNZJ01}{AXBA01}
\knoten{k284}{284}{k311b}{k301}
\knoten{k263a}{263}{RCWL01}{k284}
\blatt[rot]{AP018271}{340}{lila}{AP018271.1 information Cylindrospermum sp. taxid 2005457 region TcdA1 expanded [204.8] 138718 148237 backward plasmid=true}
\blatt{SMSL01}{327}{lila}{SMSL01 information Candidatus Brocadiaceae taxid 2528033 region TcdA1 expanded [206.8] 1898342 1907204 forward plasmid=false}
\knoten{k305b}{305}{AP018271}{SMSL01}
\blatt{ABXF01}{364}{lila}{ABXF01 information Rhodobacterales bacterium taxid 439496 region TcdA1 expanded [172.7] 1883905 1893025 backward plasmid=false}
\blatt{CABLBP01}{371}{lila}{CABLBP01 information Blautia producta taxid 33035 region TcdA1 expanded [194.0] 1220110 1227445 forward plasmid=false}
\blatt{MRCJ01}{360}{lila}{MRCJ01 information Neptunomonas phycophila taxid 1572645 region TcdA1 expanded [159.5] 1181673 1190466 backward plasmid=false}
\knoten{k316b}{316}{CABLBP01}{MRCJ01}
\knoten{k292b}{292}{ABXF01}{k316b}
\knoten{k261}{261}{k305b}{k292b}
\knoten{k238c}{238}{k263a}{k261}
\blatt{BJMH01}{321}{lila}{BJMH01 information Brevibacillus parabrevis taxid 54914 region TcdA1 expanded [225.5] 4829004 4837227 backward plasmid=false}
\blatt{LMXH01}{371}{lila}{LMXH01 information Paenibacillus sp. taxid 1729690 region TcdA1 expanded [233.8] 2228286 2236509 forward plasmid=false}
\blatt{AEDD01}{392}{lila}{AEDD01 information Paenibacillus curdlanolyticus taxid 717606 region TcdA1 expanded [240.0] 979571 987785 forward plasmid=false}
\blatt{BILZ01}{399}{lila}{BILZ01 information Paenibacillus kobensis taxid 1220566 region TcdA1 expanded [248.4] 232716 240936 backward plasmid=false}
\knoten{k371c}{371}{AEDD01}{BILZ01}
\knoten{k351}{351}{LMXH01}{k371c}
\blatt{SLVP01}{347}{lila}{SLVP01 information Paenibacillus sp. taxid 2512133 region TcdA1 expanded [261.9] 1947730 1955932 backward plasmid=false}
\knoten{k328}{328}{k351}{SLVP01}
\knoten{k289d}{289}{BJMH01}{k328}
\blatt{NC013216}{340}{lila}{NC 013216.1 information Desulfofarcimen acetoxidans taxid 485916 region TcdA1 expanded [234.3] 3040288 3048487 forward plasmid=false}
\blatt{NC009253}{343}{lila}{NC 009253.1 information Desulfotomaculum reducens taxid 349161 region TcdA1 expanded [231.3] 1059994 1067887 forward plasmid=false}
\knoten{k317}{317}{NC013216}{NC009253}
\blatt{QGTQ01}{349}{lila}{QGTQ01 information Paenibacillus cellulosilyticus taxid 375489 region TcdA1 expanded [228.7] 3421819 3430081 forward plasmid=false}
\blatt[rot]{CP054613}{349}{lila}{NZ CP054613.1 information Paenibacillus cellulosilyticus taxid 375489 region TcdA1 expanded [230.1] 198771 207033 backward plasmid=true}
\knoten{k331}{331}{QGTQ01}{CP054613}
\knoten{k281b}{281}{k317}{k331}
\knoten{k263b}{263}{k289d}{k281b}
\blatt{MVGR01}{315}{lila}{MVGR01 information Microcystis aeruginosa taxid 1960155 region TcdA1 expanded [232.7] 5181037 5189473 forward plasmid=false}
\blatt{VCNA01}{325}{lila}{VCNA01 information Brevibacillus sp. taxid 1844116 region TcdA1 expanded [214.9] 236471 245222 forward plasmid=false}
\knoten{k289e}{289}{MVGR01}{VCNA01}
\blatt{AZAN01}{388}{lila}{AZAN01 information Actinospica robiniae taxid 479430 region TcdA1 expanded [143.6] 9333851 9343133 forward plasmid=false}
\blatt{CP013461}{399}{lila}{NZ CP013461.1 information Burkholderia stagnalis taxid 1503054 region TcdA1 expanded [120.0] 71698 79801 backward plasmid=false}
\blatt{FNKR01}{445}{lila}{FNKR01 information Pseudomonas gessardii taxid 78544 region TcdA1 expanded [129.6] 6311008 6319435 backward plasmid=false}
\blatt{JAAQYP01}{445}{lila}{JAAQYP01 information Pseudomonas gessardii taxid 78544 region TcdA1 expanded [129.6] 378418 386845 backward plasmid=false}
\knoten{k426}{426}{FNKR01}{JAAQYP01}
\blatt{CM001559}{428}{lila}{NZ CM001559.1 information Pseudomonas chlororaphis taxid 1038921 region TcdA1 expanded [145.1] 3463252 3471679 forward plasmid=false}
\knoten{k408}{408}{k426}{CM001559}
\knoten{k371b}{371}{CP013461}{k408}
\knoten{k328b}{328}{AZAN01}{k371b}
\blatt{FQUQ01}{380}{lila}{FQUQ01 information Pedobacter caeni taxid 288992 region TcdA1 expanded [165.1] 1067535 1075866 backward plasmid=false}
\blatt{CP033932}{411}{lila}{NZ CP033932.1 information Chryseobacterium bernardetii taxid 1241978 region A2 expanded [187.4] 3731441 3739607 forward plasmid=false}
\blatt{QNVV01}{411}{lila}{QNVV01 information Chryseobacterium sp. taxid 2258963 region A2 expanded [186.7] 3473152 3481318 forward plasmid=false}
\knoten{k391}{391}{CP033932}{QNVV01}
\knoten{k340b}{340}{FQUQ01}{k391}
\blatt{VIWA01}{423}{lila}{VIWA01 information Chitinophaga pinensis taxid 79329 region TcdA1 expanded [123.1] 1538106 1547529 forward plasmid=false}
\blatt{CP038255}{399}{lila}{NZ CP038255.1 information Terasakiella sp. taxid 2560057 region TcdA1 expanded [215.5] 2118191 2126723 backward plasmid=false}
\knoten{k348b}{348}{VIWA01}{CP038255}
\knoten{k314}{314}{k340b}{k348b}
\knoten{k289f}{289}{k328b}{k314}
\knoten{k260}{260}{k289e}{k289f}
\knoten{k236}{236}{k263b}{k260}
\knoten{k211b}{211}{k238c}{k236}
\knoten{k190c}{190}{k249}{k211b}
\knoten{k170}{170}{k195c}{k190c}
\knoten{k145b}{145}{k172}{k170}
\knoten{k122c}{122}{k144}{k145b}
\knoten{k99}{99}{k117}{k122c}
\blatt{AUEZ01}{129}{lila}{AUEZ01 information Bradyrhizobium sp. taxid 196490 region TcdA1 expanded [302.5] 5384225 5394188 backward plasmid=false}
\knoten{k78b}{78}{k99}{AUEZ01}
\knoten{k56}{56}{QXQA01}{k78b}
\knoten{k32}{32}{k54}{k56}
\blatt{ATXB01}{37}{lila}{ATXB01 information Methylohalobius crimeensis taxid 1283300 region TcdA1 expanded [161.1] 3001943 3011807 backward plasmid=false}
\knoten{k12a}{12}{k32}{ATXB01}

% ---- unterste Gruppen --------------------------------------------------------
\blatt{RCFQ01}{48}{lila}{RCFQ01 information Mariprofundus sp. taxid 2650971 region TcdA1 expanded [370.5] 509095 517567 forward plasmid=false}
\blatt{QEOK01}{125}{lila}{QEOK01 information Filimonas sp. taxid 2135469 region TcdA1 expanded [114.7] 5846640 5855748 forward plasmid=false}
\blatt{SMJU01}{162}{lila}{SMJU01 information Arundinibacter roseus taxid 2070510 region TcdA1 expanded [109.8] 1479975 1489056 backward plasmid=false}
\blatt{FOUX01}{162}{lila}{FOUX01 information Chitinophaga sp. taxid 1881041 region TcdA1 expanded [130.3] 1077682 1086871 backward plasmid=false}
\blatt{QGTG01}{161}{lila}{QGTG01 information Chitinophaga sp. taxid 2135462 region TcdA1 expanded [127.0] 1212125 1221230 forward plasmid=false}
\knoten{k140}{140}{FOUX01}{QGTG01}
\knoten{k113}{113}{SMJU01}{k140}
\knoten{k88a}{88}{QEOK01}{k113}
\blatt{BBLT01}{157}{lila}{BBLT01 information Sporocytophaga myxococcoides taxid 153721 region A2 expanded [606.8] 3336677 3345986 forward plasmid=false}
\blatt{SJSL01}{172}{lila}{SJSL01 information Pedobacter sp. taxid 2530453 region TcdA1 expanded [151.4] 4215839 4225139 forward plasmid=false}
\blatt{JXRA01}{186}{lila}{JXRA01 information Pedobacter lusitanus taxid 1503925 region A2 expanded [110.3] 4252521 4261722 backward plasmid=false}
\knoten{k154}{154}{SJSL01}{JXRA01}
\knoten{k132}{132}{BBLT01}{k154}
\blatt{NC010830}{130}{lila}{NC 010830.1 information Candidatus Amoebophilus taxid 452471 region A2 expanded [144.6] 1810233 1819953 forward plasmid=false}
\knoten{k108}{108}{k132}{NC010830}
\blatt{CP013341}{108}{lila}{NZ CP013341.1 information Nitrosomonas ureae taxid 44577 region TcdA1 expanded [318.4] 1718710 1728217 forward plasmid=false}
\knoten{k88b}{88}{k108}{CP013341}
\knoten{k67}{67}{k88a}{k88b}
\blatt{CP029064}{108}{lila}{NZ CP029064.1 information Microbulbifer sp. taxid 359370 region TcdA1 expanded [101.1] 2510757 2519838 backward plasmid=false}
\blatt{ASTJ01}{97}{lila}{ASTJ01 information Halomonas anticariensis taxid 1121939 region TcdA1 expanded [317.8] 2778905 2787977 forward plasmid=false}
\knoten{k72}{72}{CP029064}{ASTJ01}
\knoten{k44}{44}{k67}{k72}
\knoten{k18}{18}{RCFQ01}{k44}
\blatt{AWZT01}{86}{lila}{AWZT01 information Paraburkholderia dilworthii taxid 948106 region TcdA1 expanded [112.7] 6762371 6772721 backward plasmid=false}
\blatt{VWSH01}{113}{lila}{VWSH01 information Taibaiella sp. taxid 2608001 region A2 expanded [615.3] 3411375 3420984 backward plasmid=false}
\blatt{FODH01}{129}{lila}{FODH01 information Paenibacillus sophorae taxid 1333845 region A2 expanded [139.6] 30917 39296 backward plasmid=false}
\blatt{CP004078}{151}{lila}{NZ CP004078.1 information Paenibacillus sabinae taxid 1268072 region TcdA1 expanded [152.6] 2803867 2812249 backward plasmid=false}
\blatt{RQPI01}{149}{lila}{RQPI01 information Paenibacillus sp. taxid 1850366 region TcdA1 expanded [157.9] 755063 763769 forward plasmid=false}
\knoten{k129}{129}{CP004078}{RQPI01}
\knoten{k108b}{108}{FODH01}{k129}
\knoten{k70}{70}{VWSH01}{k108b}
\knoten{k40}{40}{AWZT01}{k70}
\blatt[rot]{CP029235}{77}{lila}{NZ CP029235.1 information Sinorhizobium fredii taxid 1128331 region TcdA1 expanded [267.5] 64026 73212 backward plasmid=true}
\blatt{CP026106}{70}{lila}{NZ CP026106.1 information Paraburkholderia hospita taxid 169430 region TcdA1 expanded [101.9] 1123499 1133966 forward plasmid=false}
\knoten{k34}{34}{CP029235}{CP026106}
\knoten{k13}{13}{k40}{k34}
% Wurzel mit drei Kindern
\knoten[wurzel]{wurzel}{2.5}{k12a}{k13}\kante{wurzel}{k18}

% ---- alle Äste hinter den Punkten
\begin{scope}[on background layer]
\kantenliste
\end{scope}

% ---- Maßstab -------------------------------------------------------------------
\draw[ink!80,line width=1] (0,6994) -- (0,7002) (0,6998) -- (46,6998) (46,6994) -- (46,7002);
\node[anchor=west,inner sep=0,font=\fontsize{11.3}{13}\selectfont,text=ink!80] (massstab) at (0,7010) {0.745964};
\end{tikzpicture}
\end{document}
